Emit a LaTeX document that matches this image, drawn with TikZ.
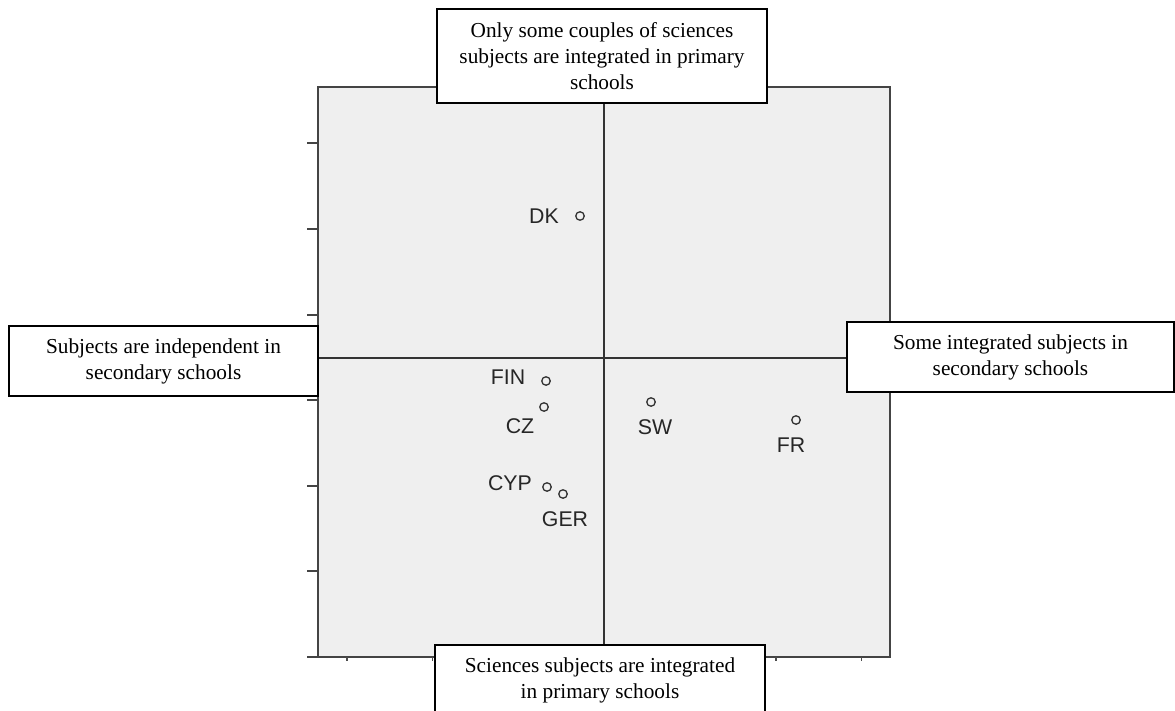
\documentclass[tikz,border=0pt]{standalone}
\usepackage{fontspec}
\setmainfont{Liberation Serif}
\newfontfamily\lblfont{Liberation Sans}
\definecolor{plotbg}{HTML}{EFEFEF}
\definecolor{axisgray}{HTML}{444444}
\begin{document}
\begin{tikzpicture}[x=1pt,y=-1pt,
  qbox/.style={draw=black, line width=1.3pt, fill=white, align=center,
    font=\fontsize{21.3}{26}\selectfont, inner sep=0pt},
  ptmark/.style={circle, draw=black!80, line width=1.3pt, minimum size=8.5pt, inner sep=0pt},
  lbl/.style={font=\lblfont\fontsize{21.3}{24}\selectfont, text=black!85, inner sep=0pt},
  axisline/.style={draw=axisgray, line width=2.2pt},
  midline/.style={draw=black!80, line width=1.6pt}]
\useasboundingbox (0,0) rectangle (1175,711);
\clip (0,0) rectangle (1175,711);
% plot area
\path[fill=plotbg] (318,87) rectangle (890,657);
\draw[axisline] (318,87) rectangle (890,657);
\draw[axisline] (307,657) -- (318,657);
\foreach \k in {1,...,6}
  \draw[axisline, line width=2pt] (307,{657-85.6*\k}) -- (318,{657-85.6*\k});
\foreach \k in {0,...,6}
  \draw[black!70, line width=1.2pt] ({347+85.8*\k},657) -- ++(0,4);
% cross lines
\coordinate (vt) at (604,87);
\coordinate (vb) at (604,657);
\coordinate (hl) at (318,358);
\coordinate (hr) at (890,358);
\draw[midline] (vt) -- (vb);
\draw[midline] (hl) -- (hr);
% boxes
\node[qbox, minimum width=330pt, minimum height=94pt] (top) at (602,56)
  {Only some couples of sciences\\subjects are integrated in primary\\schools};
\node[qbox, minimum width=309pt, minimum height=70pt] (left) at (163.5,361)
  {Subjects are independent in\\secondary schools};
\node[qbox, minimum width=327pt, minimum height=70pt] (right) at (1010.5,357)
  {Some integrated subjects in\\secondary schools};
\node[qbox, minimum width=330pt, minimum height=70pt] (bottom) at (600,680)
  {Sciences subjects are integrated\\in primary schools};
% points
\node[ptmark] (dk) at (580,216) {};
\node[lbl] (dkl) at (544,216) {DK};
\node[ptmark] (fin) at (546,381) {};
\node[lbl] (finl) at (508,377) {FIN};
\node[ptmark] (cz) at (544,407) {};
\node[lbl] (czl) at (520,426) {CZ};
\node[ptmark] (cyp) at (547,487) {};
\node[lbl] (cypl) at (510,483) {CYP};
\node[ptmark] (ger) at (563,494) {};
\node[lbl] (gerl) at (565,519) {GER};
\node[ptmark] (sw) at (651,402) {};
\node[lbl] (swl) at (655,427) {SW};
\node[ptmark] (fr) at (796,420) {};
\node[lbl] (frl) at (791,445) {FR};
\end{tikzpicture}
\end{document}
